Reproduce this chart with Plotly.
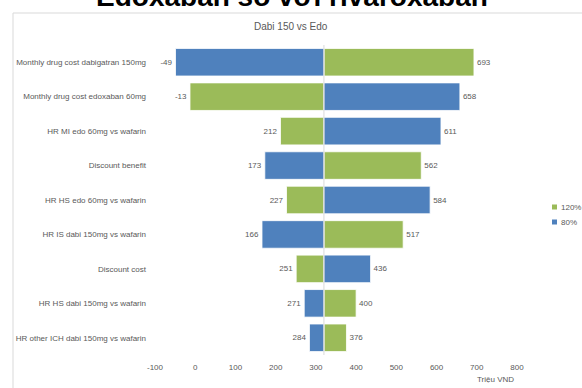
import plotly.graph_objects as go

categories = [
    "Monthly drug cost dabigatran 150mg",
    "Monthly drug cost edoxaban 60mg",
    "HR MI edo 60mg vs wafarin",
    "Discount benefit",
    "HR HS edo 60mg vs wafarin",
    "HR IS dabi 150mg vs wafarin",
    "Discount cost",
    "HR HS dabi 150mg vs wafarin",
    "HR other ICH dabi 150mg vs wafarin",
]
series_names = ["120%", "80%"]
high_120 = [693, -13, 212, 562, 227, 517, 251, 400, 376]
low_80 = [-49, 658, 611, 173, 584, 166, 436, 271, 284]
base_value = 320
x_ticks = [-100, 0, 100, 200, 300, 400, 500, 600, 700, 800]
x_tick_labels = ["-100", "0", "100", "200", "300", "400", "500", "600", "700", "800"]

GREEN = "#9BBB59"
BLUE = "#4F81BD"
GRAY = "#595959"
FONT = "Liberation Sans"
colors = [GREEN, BLUE]

fig = go.Figure()
for name, vals, col in zip(series_names, [high_120, low_80], colors):
    fig.add_trace(go.Bar(
        y=categories,
        x=[v - base_value for v in vals],
        base=base_value,
        orientation="h",
        name=name,
        showlegend=False,
        marker=dict(color=col, line=dict(color="white", width=0.8)),
        width=0.8,
        text=[str(v) for v in vals],
        textposition="outside",
        textfont=dict(size=8, color=GRAY, family=FONT),
        cliponaxis=False,
    ))

L, R, T, B = 155, 65, 45, 33
W, H = 582, 388
pw, ph = W - L - R, H - T - B

def px(xp):
    return (xp - L) / pw

def py(yp):
    return (H - B - yp) / ph

shapes = [
    dict(type="line", xref="x", yref="paper", x0=base_value, x1=base_value,
         y0=0, y1=1, line=dict(color="#D9D9D9", width=1), layer="above"),
    dict(type="rect", xref="paper", yref="paper",
         x0=px(13), x1=px(590), y0=py(13), y1=py(400),
         line=dict(color="#D9D9D9", width=1)),
]
annotations = [
    dict(text="Dabi 150 vs Edo", xref="paper", yref="paper", x=px(291), y=py(27),
         xanchor="center", yanchor="middle", showarrow=False,
         font=dict(size=10, color=GRAY, family=FONT)),
    dict(text="<b>Edoxaban so với rivaroxaban</b>", xref="paper", yref="paper",
         x=px(292), y=py(-4), xanchor="center", yanchor="middle", showarrow=False,
         font=dict(size=28, color="black", family=FONT)),
    dict(text="Triệu VND", xref="paper", yref="paper", x=px(495), y=py(379),
         xanchor="center", yanchor="middle", showarrow=False,
         font=dict(size=8, color=GRAY, family=FONT)),
]
# manual legend
for i, (name, col) in enumerate(zip(series_names, colors)):
    yc = 207 + 15 * i
    shapes.append(dict(type="rect", xref="paper", yref="paper",
                       x0=px(552), x1=px(557), y0=py(yc - 2.5), y1=py(yc + 2.5),
                       fillcolor=col, line=dict(width=0)))
    annotations.append(dict(text=name, xref="paper", yref="paper", x=px(559), y=py(yc),
                            xanchor="left", yanchor="middle", showarrow=False,
                            font=dict(size=8, color=GRAY, family=FONT)))

fig.update_layout(
    width=W, height=H,
    margin=dict(l=L, r=R, t=T, b=B, autoexpand=False),
    barmode="overlay",
    plot_bgcolor="white", paper_bgcolor="white",
    font=dict(family=FONT, size=8, color=GRAY),
    showlegend=False,
    xaxis=dict(
        range=[-100, 800], tickvals=x_ticks, ticktext=x_tick_labels,
        showgrid=False, zeroline=False,
        showline=False, ticks="", tickfont=dict(size=8, color=GRAY),
        ticklabelstandoff=6,
    ),
    yaxis=dict(
        autorange="reversed", showgrid=False, zeroline=False, showline=False,
        ticks="", tickfont=dict(size=8, color=GRAY), ticklabelstandoff=8,
    ),
    shapes=shapes,
    annotations=annotations,
)

fig.write_html("out.html")
